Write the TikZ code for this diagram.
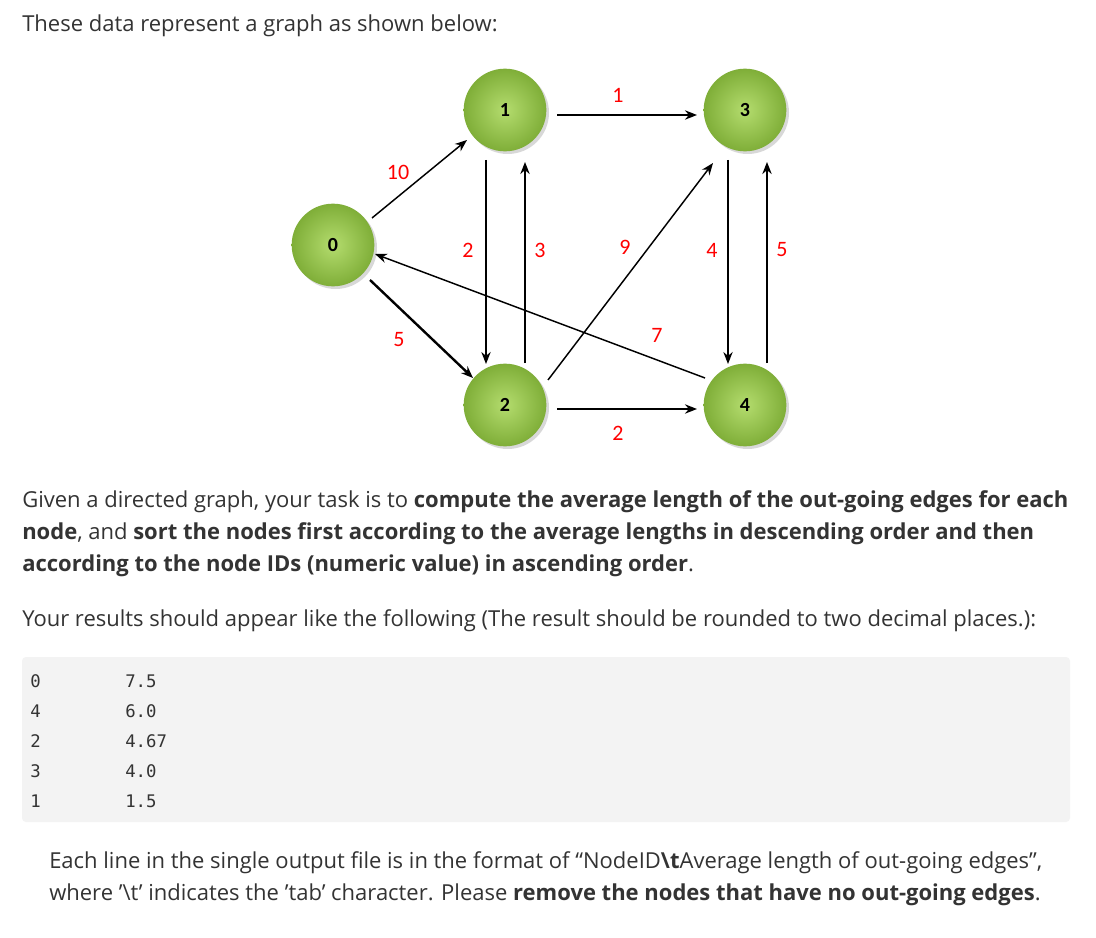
\documentclass[tikz,border=0pt]{standalone}
\usepackage{fontspec}
\setmainfont{Open Sans}
\newfontfamily\lblfont{Carlito}
\setmonofont{DejaVu Sans Mono}
\usetikzlibrary{arrows.meta,shadows}
\definecolor{gin}{HTML}{B4DC6E}
\definecolor{gout}{HTML}{7FAE38}
\definecolor{codebg}{HTML}{F3F3F3}
\definecolor{txt}{HTML}{333333}
\tikzset{
  gnode/.style={circle,minimum size=62pt,inner sep=0pt,inner color=gin,outer color=gout,
    drop shadow={opacity=0.3,shadow xshift=2pt,shadow yshift=-2pt},font=\lblfont\bfseries\fontsize{15}{15}\selectfont},
  edge/.style={-{Stealth[length=9pt,width=7pt]},line width=1.1pt},
  tedge/.style={edge,line width=1.8pt},
  elab/.style={text=red,font=\lblfont\fontsize{16.5}{16.5}\selectfont},
  para/.style={anchor=west,inner sep=0pt,text=txt,font=\fontsize{16.5}{16.5}\selectfont},
  code/.style={anchor=west,inner sep=0pt,text=txt,font=\ttfamily\fontsize{13}{13}\selectfont}
}
\begin{document}
\begin{tikzpicture}[x=0.75pt,y=-0.75pt]
\useasboundingbox[fill=white] (0,0) rectangle (1096,938);
\node[para] (t1) at (22,26) {These data represent a graph as shown below:};
\node[gnode] (n0) at (333,245) {0};
\node[gnode] (n1) at (505,110) {1};
\node[gnode] (n3) at (745,110) {3};
\node[gnode] (n2) at (505,405) {2};
\node[gnode] (n4) at (745,405) {4};
\coordinate (a0) at (372,218); \coordinate (a1) at (467,140);
\draw[edge] (a0) -- (a1);
\coordinate (b0) at (370,280); \coordinate (b1) at (473,378);
\draw[tedge] (b0) -- (b1);
\coordinate (c0) at (486,160); \coordinate (c1) at (486,364);
\draw[edge] (c0) -- (c1);
\coordinate (d0) at (525,363); \coordinate (d1) at (525,162);
\draw[tedge] (d0) -- (d1);
\coordinate (e0) at (557,115); \coordinate (e1) at (697,115);
\draw[tedge] (e0) -- (e1);
\coordinate (f0) at (557,409); \coordinate (f1) at (697,409);
\draw[tedge] (f0) -- (f1);
\coordinate (g0) at (548,380); \coordinate (g1) at (713,163);
\draw[edge] (g0) -- (g1);
\coordinate (h0) at (728,160); \coordinate (h1) at (728,364);
\draw[edge] (h0) -- (h1);
\coordinate (i0) at (767,363); \coordinate (i1) at (767,162);
\draw[tedge] (i0) -- (i1);
\coordinate (j0) at (705,378); \coordinate (j1) at (375,254);
\draw[edge] (j0) -- (j1);
\node[elab] (l1) at (398,172) {10};
\node[elab] (l2) at (399,340) {5};
\node[elab] (l3) at (468,250) {2};
\node[elab] (l4) at (540,250) {3};
\node[elab] (l5) at (618,95) {1};
\node[elab] (l6) at (618,433) {2};
\node[elab] (l7) at (625,247) {9};
\node[elab] (l8) at (712,250) {4};
\node[elab] (l9) at (782,250) {5};
\node[elab] (l10) at (657,335) {7};
\node[para] (p1) at (22,502) {Given a directed graph, your task is to \textbf{compute the average length of the out-going edges for each}};
\node[para] (p2) at (22,534) {\textbf{node}, and \textbf{sort the nodes first according to the average lengths in descending order and then}};
\node[para] (p3) at (22,566) {\textbf{according to the node IDs (numeric value) in ascending order}.};
\node[para] (p4) at (22,621) {Your results should appear like the following (The result should be rounded to two decimal places.):};
\fill[codebg,rounded corners=3pt] (22,657) rectangle (1070,822);
\node[code] (c1a) at (30,681) {0}; \node[code] (c1b) at (125,681) {7.5};
\node[code] (c2a) at (30,711) {4}; \node[code] (c2b) at (125,711) {6.0};
\node[code] (c3a) at (30,741) {2}; \node[code] (c3b) at (125,741) {4.67};
\node[code] (c4a) at (30,771) {3}; \node[code] (c4b) at (125,771) {4.0};
\node[code] (c5a) at (30,801) {1}; \node[code] (c5b) at (125,801) {1.5};
\node[para] (q1) at (49,863) {Each line in the single output file is in the format of “NodeID\textbf{\textbackslash t}Average length of out-going edges”,};
\node[para] (q2) at (49,895) {where '\textbackslash t' indicates the 'tab' character. Please \textbf{remove the nodes that have no out-going edges}.};
\end{tikzpicture}
\end{document}
